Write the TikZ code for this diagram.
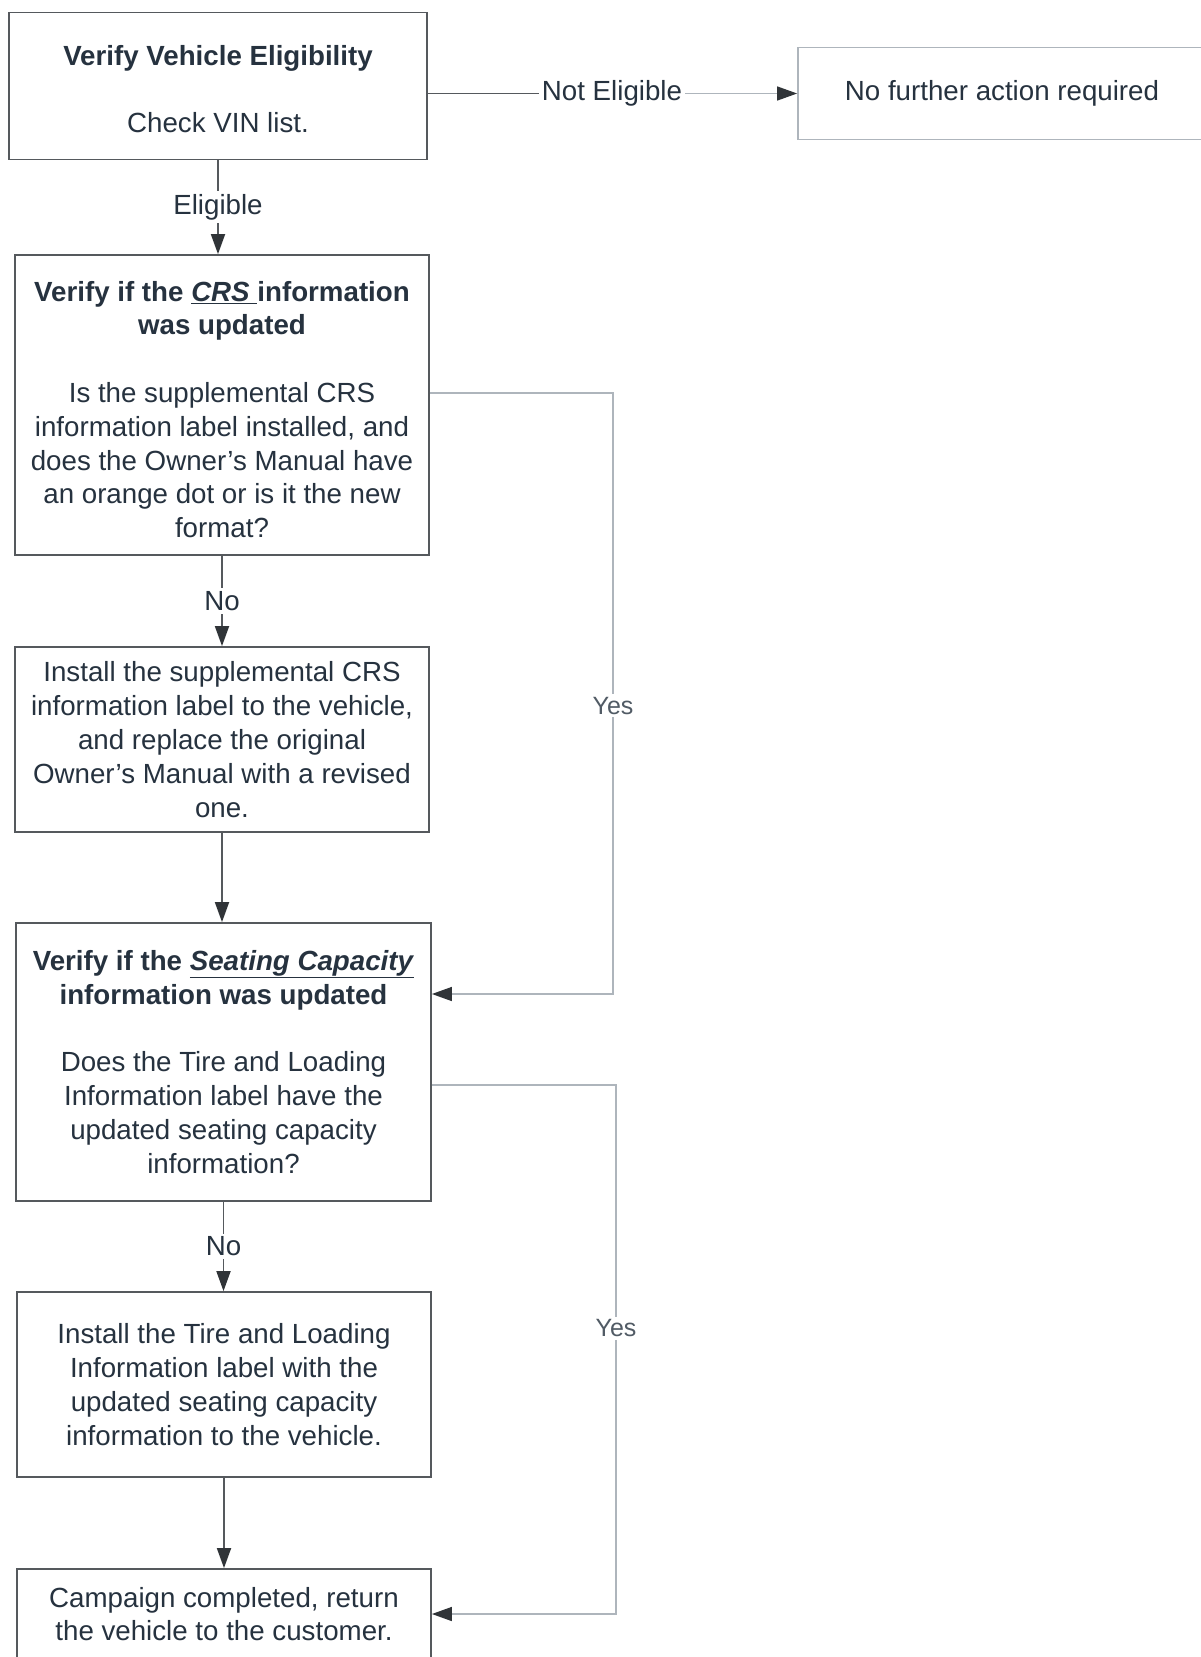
\documentclass[tikz,border=0pt]{standalone}
\usepackage{fontspec}
\setmainfont{Liberation Sans}
\usetikzlibrary{arrows.meta}
\definecolor{ink}{HTML}{26323F}
\definecolor{edge}{HTML}{55595D}
\definecolor{faint}{HTML}{AEB5BC}
\definecolor{tipc}{HTML}{303438}
\tikzset{
box/.style={shape=rectangle, draw=edge, line width=1.8pt, align=center, text=ink, inner sep=0pt, font=\fontsize{27.7}{33.8}\selectfont},
lbl/.style={fill=white, text=ink, inner sep=3pt, font=\fontsize{27.7}{33.8}\selectfont},
yeslbl/.style={fill=white, text=ink!80, inner sep=3pt, font=\fontsize{25}{30}\selectfont},
flow/.style={draw=edge, line width=1.8pt, -{Triangle[length=20pt,width=14pt,color=tipc,fill=tipc]}},
back/.style={draw=faint, line width=1.4pt, -{Triangle[length=20pt,width=14pt,color=tipc,fill=tipc]}}
}

\begin{document}
\begin{tikzpicture}[x=1pt,y=-1pt]
    \useasboundingbox[fill=white] (0,0) rectangle (1201,1657);

                \node[box, minimum width=418pt, minimum height=147pt] (B1) at (218,86) {\rule{0pt}{27pt}\textbf{Verify Vehicle Eligibility}\\[33pt]Check VIN list.};
                \node[box, draw=faint, minimum width=408pt, minimum height=92pt] (B2) at (1002,93.5) {No further action required};
                \node[box, minimum width=414pt, minimum height=300pt] (B3) at (222,405) {\rule{0pt}{29pt}\textbf{Verify if the \underline{\textit{CRS }}information}\\\textbf{was updated}\\[33.8pt]Is the supplemental CRS\\information label installed, and\\does the Owner's Manual have\\an orange dot or is it the new\\format?};
                \node[box, minimum width=414pt, minimum height=185pt] (B4) at (222,739.5) {Install the supplemental CRS\\information label to the vehicle,\\and replace the original\\Owner's Manual with a revised\\one.};
                \node[box, minimum width=415pt, minimum height=278pt] (B5) at (223.5,1062) {\textbf{Verify if the \underline{\textit{Seating Capacity}}}\\\textbf{information was updated}\\[33.8pt]Does the Tire and Loading\\Information label have the\\updated seating capacity\\information?};
                \node[box, minimum width=414pt, minimum height=185pt] (B6) at (224,1384.5) {Install the Tire and Loading\\Information label with the\\updated seating capacity\\information to the vehicle.};
                \node[box, minimum width=414pt, minimum height=90pt] (B7) at (224,1614) {Campaign completed, return\\the vehicle to the customer.};

                \node[lbl] (NE) at (612,93.5) {Not Eligible};
                \coordinate (Y1a) at (613,393);
                \coordinate (Y1b) at (613,994);
                \coordinate (Y2a) at (616,1085);
                \coordinate (Y2b) at (616,1614);

                \draw[flow] (B1.south) -- node[lbl] {Eligible} (B1.south |- B3.north);
                \draw[draw=edge, line width=1.8pt] (B1.east |- NE) -- (NE.west);
                \draw[back] (NE.east) -- (B2.west);
                \draw[flow] (B3.south) -- node[lbl] {No} (B3.south |- B4.north);
                \draw[flow] (B4.south) -- (B4.south |- B5.north);
                \draw[flow] (B5.south) -- node[lbl] {No} (B5.south |- B6.north);
                \draw[flow] (B6.south) -- (B6.south |- B7.north);
                \draw[back] (B3.east |- Y1a) -- (Y1a) -- node[yeslbl, pos=0.52] {Yes} (Y1b) -- (B5.east |- Y1b);
                \draw[back] (B5.east |- Y2a) -- (Y2a) -- node[yeslbl, pos=0.46] {Yes} (Y2b) -- (B7.east |- Y2b);

            \end{tikzpicture}
\end{document}
